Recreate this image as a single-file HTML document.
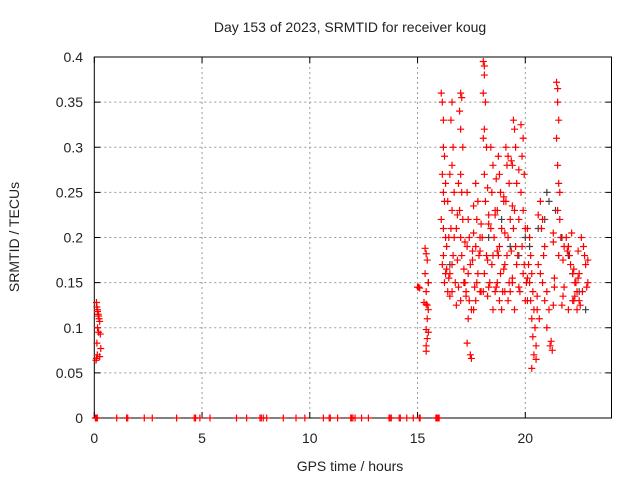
<!DOCTYPE html>
<html><head><meta charset="utf-8"><style>
body{margin:0;background:#fff;}
svg{display:block;font-family:"Liberation Sans",sans-serif;}
</style></head><body>
<svg id="chart" width="640" height="480" viewBox="0 0 640 480" xmlns="http://www.w3.org/2000/svg">
<rect width="640" height="480" fill="#fff"/>
<text x="350" y="32" text-anchor="middle" font-size="14" fill="#222">Day 153 of 2023, SRMTID for receiver koug</text>
<text transform="translate(19,237) rotate(-90)" text-anchor="middle" font-size="14" fill="#222">SRMTID / TECUs</text>
<text x="350" y="471" text-anchor="middle" font-size="14" fill="#222">GPS time / hours</text>
<g id="grid"></g>
<g id="axes"></g>
<g id="marks"></g>
</svg>
<script>
const xTicks=[0,5,10,15,20];
const yTicks=[0,0.05,0.1,0.15,0.2,0.25,0.3,0.35,0.4];
const yTickLabels=["0","0.05","0.1","0.15","0.2","0.25","0.3","0.35","0.4"];
const zeroHours=[0.05,0.1,0.14,1.04,1.5,1.55,2.32,2.69,3.82,4.64,4.7,4.9,5.37,6.6,7.07,7.69,7.75,7.84,8.0,8.77,9.36,9.77,10.63,10.9,10.95,11.29,11.9,11.94,12.0,12.1,12.4,12.72,13.68,13.72,13.78,14.15,14.2,14.5,14.8,15.08,15.12,15.85,15.9,15.95,16.0];
const redHours=[0.1,0.12,0.15,0.15,0.18,0.2,0.22,0.25,0.15,0.2,0.28,0.12,0.3,0.14,0.25,0.1,0.08,
15.0,15.05,15.1,
15.35,15.4,15.45,15.35,15.5,15.4,15.3,15.4,15.45,15.5,15.45,15.4,15.5,15.45,15.4,15.4,
16.1,16.15,16.2,16.2,16.25,16.15,16.3,16.2,16.25,16.1,16.2,16.3,16.35,16.2,16.15,16.3,16.25,16.4,
16.6,16.55,16.65,16.6,16.7,16.6,16.55,16.7,16.65,16.6,16.5,16.75,16.6,
17.0,17.05,16.95,17.0,17.1,17.0,17.05,16.95,17.1,17.0,17.05,17.15,17.0,
17.3,17.35,17.4,17.3,17.45,17.35,17.25,17.4,17.5,17.35,17.3,17.45,17.5,
17.7,17.8,17.75,17.9,17.7,17.85,17.8,17.75,17.9,17.7,17.6,
18.05,18.1,18.1,18.05,18.15,18.1,18.05,18.2,18.1,18.15,18.0,18.2,18.1,18.05,
18.4,18.5,18.45,18.6,18.4,18.55,18.5,18.45,18.35,18.6,18.5,
18.75,18.8,18.85,18.7,18.9,18.8,18.75,18.85,18.7,18.95,18.8,18.9,
19.1,19.2,19.15,19.25,19.1,19.3,19.2,19.15,19.05,19.25,19.3,19.2,
19.45,19.5,19.55,19.4,19.6,19.5,19.45,19.55,19.6,19.4,19.5,
19.8,19.9,19.85,19.95,19.8,19.9,20.0,19.85,19.95,19.9,20.05,20.0,
20.2,20.25,20.3,20.2,20.35,20.25,20.4,20.3,20.45,20.35,20.5,20.4,20.3,20.5,
20.7,20.8,20.75,20.9,20.85,20.7,20.8,21.0,20.9,21.1,21.0,21.2,21.15,21.25,
21.45,21.5,21.5,21.55,21.45,21.5,21.55,21.6,21.5,21.6,21.65,21.55,
21.9,22.0,22.05,22.1,22.2,22.3,22.4,22.5,22.0,22.2,22.35,22.6,22.7,22.8,22.5,22.65,22.75,22.4,22.15,21.95,
16.4,16.45,16.35,16.5,16.8,16.85,16.9,16.8,17.2,17.15,17.25,17.6,17.55,17.65,17.95,17.9,18.25,18.3,18.25,18.3,
18.65,18.6,18.7,19.0,19.05,19.0,19.35,19.4,19.35,19.7,19.65,19.75,20.1,20.15,20.1,20.6,20.55,20.65,21.3,21.35,21.3,
21.75,21.8,21.7,22.25,22.3,22.45,22.55,22.85,22.9,16.5,16.9,17.6,18.3,19.0,19.7,20.6,21.3,21.8,22.45,
16.45,16.85,17.2,17.55,17.95,18.25,18.65,19.05,19.4,19.7,20.1,20.55,21.35,21.75,22.25,22.9];
const redValues=[0.128,0.123,0.12,0.118,0.115,0.113,0.11,0.107,0.1,0.095,0.093,0.083,0.077,0.07,0.068,0.066,0.064,
0.145,0.145,0.144,
0.188,0.182,0.175,0.16,0.15,0.14,0.128,0.126,0.125,0.12,0.11,0.098,0.095,0.088,0.08,0.074,
0.36,0.35,0.33,0.3,0.29,0.27,0.26,0.25,0.24,0.22,0.21,0.2,0.19,0.18,0.17,0.16,0.15,0.14,
0.35,0.33,0.3,0.28,0.25,0.23,0.21,0.2,0.18,0.17,0.16,0.15,0.14,
0.36,0.355,0.34,0.32,0.3,0.27,0.25,0.23,0.22,0.2,0.18,0.15,0.13,
0.25,0.22,0.2,0.19,0.17,0.16,0.14,0.13,0.12,0.11,0.083,0.07,0.066,
0.26,0.24,0.22,0.2,0.19,0.18,0.16,0.15,0.14,0.13,0.12,
0.395,0.39,0.38,0.36,0.35,0.32,0.31,0.3,0.27,0.24,0.2,0.18,0.16,0.14,
0.3,0.28,0.25,0.23,0.21,0.2,0.18,0.17,0.15,0.14,0.12,
0.29,0.27,0.25,0.23,0.21,0.19,0.18,0.16,0.15,0.14,0.13,0.12,
0.3,0.29,0.28,0.26,0.24,0.22,0.2,0.18,0.17,0.15,0.14,0.13,
0.33,0.32,0.3,0.28,0.26,0.23,0.21,0.19,0.17,0.15,0.12,
0.325,0.31,0.29,0.27,0.25,0.23,0.21,0.19,0.17,0.16,0.15,0.13,
0.2,0.18,0.16,0.15,0.14,0.13,0.12,0.11,0.1,0.09,0.08,0.07,0.055,0.065,
0.24,0.22,0.21,0.19,0.18,0.16,0.15,0.14,0.13,0.12,0.1,0.085,0.08,0.075,
0.372,0.365,0.35,0.33,0.31,0.28,0.26,0.25,0.23,0.22,0.2,0.18,
0.2,0.19,0.18,0.17,0.16,0.15,0.14,0.13,0.12,0.13,0.15,0.2,0.19,0.17,0.16,0.14,0.18,0.12,0.205,0.185,
0.24,0.2,0.165,0.135,0.21,0.175,0.145,0.125,0.195,0.165,0.135,0.205,0.175,0.145,0.215,0.185,0.255,0.215,0.175,0.145,
0.265,0.225,0.185,0.24,0.205,0.165,0.285,0.235,0.185,0.22,0.18,0.14,0.21,0.17,0.13,0.17,0.135,0.11,0.195,0.155,0.125,
0.175,0.145,0.125,0.165,0.135,0.155,0.125,0.145,0.175,0.27,0.26,0.235,0.225,0.245,0.275,0.225,0.205,0.19,0.185,
0.155,0.225,0.15,0.185,0.14,0.135,0.145,0.14,0.155,0.145,0.155,0.12,0.145,0.135,0.13,0.15];
const greyHours=[16.5,17.2,18.3,18.9,19.3,19.7,20.0,20.2,20.6,20.9,21.0,21.1,21.4,21.7,22.0,22.2,22.5,22.8,15.5];
const greyValues=[0.17,0.15,0.2,0.22,0.19,0.18,0.2,0.19,0.21,0.22,0.25,0.24,0.23,0.2,0.18,0.16,0.14,0.12,0.15];

const L=94.3,R=611.5,T=57,B=418,XMAX=24,YMAX=0.4;
const xs=h=>L+(h/XMAX)*(R-L);
const ys=v=>B-(v/YMAX)*(B-T);
const NS="http://www.w3.org/2000/svg";
function mk(tag,parent){const e=document.createElementNS(NS,tag);parent.appendChild(e);return e;}
const grid=document.getElementById('grid'),axes=document.getElementById('axes'),marks=document.getElementById('marks');
xTicks.forEach(t=>{
  const x=xs(t);
  if(t>0){const g=mk('line',grid);g.setAttribute('x1',x);g.setAttribute('x2',x);g.setAttribute('y1',T);g.setAttribute('y2',B);g.setAttribute('stroke','#999');g.setAttribute('stroke-dasharray','2,3');
  
  }
  const k=mk('path',axes);k.setAttribute('d',`M${x},${B}v-6M${x},${T}v6`);k.setAttribute('stroke','#000');
  
  
  const lb=mk('text',axes);lb.setAttribute('x',x);lb.setAttribute('y',443);lb.setAttribute('text-anchor','middle');lb.setAttribute('font-size','14');lb.setAttribute('fill','#222');lb.textContent=String(t);
  
  
});
yTicks.forEach((t,i)=>{
  const y=ys(t);
  if(t>0&&t<YMAX){const g=mk('line',grid);g.setAttribute('x1',L);g.setAttribute('x2',R);g.setAttribute('y1',y);g.setAttribute('y2',y);g.setAttribute('stroke','#999');g.setAttribute('stroke-dasharray','2,3');
  
  }
  const k=mk('path',axes);k.setAttribute('d',`M${L},${y}h6M${R},${y}h-6`);k.setAttribute('stroke','#000');
  
  
  const lb=mk('text',axes);lb.setAttribute('x',83);lb.setAttribute('y',y+5);lb.setAttribute('text-anchor','end');lb.setAttribute('font-size','14');lb.setAttribute('fill','#222');lb.textContent=yTickLabels[i];
  
  
});
const fr=mk('rect',axes);fr.setAttribute('x',L);fr.setAttribute('y',T);fr.setAttribute('width',R-L);fr.setAttribute('height',B-T);fr.setAttribute('fill','none');fr.setAttribute('stroke','#000');


function plus(h,v,col,name){
  const x=xs(h),y=ys(v);
  const p=mk('path',marks);p.setAttribute('d',`M${x-3.5},${y}h7M${x},${y-3.5}v7`);p.setAttribute('stroke',col);p.setAttribute('stroke-width','1.2');
  
  
}
greyHours.forEach((h,i)=>plus(h,greyValues[i],'#444','grey-point'));
zeroHours.forEach(h=>plus(h,0,'#f00','zero-point'));
redHours.forEach((h,i)=>plus(h,redValues[i],'#f00','srmtid-point'));
</script>
</body></html>
